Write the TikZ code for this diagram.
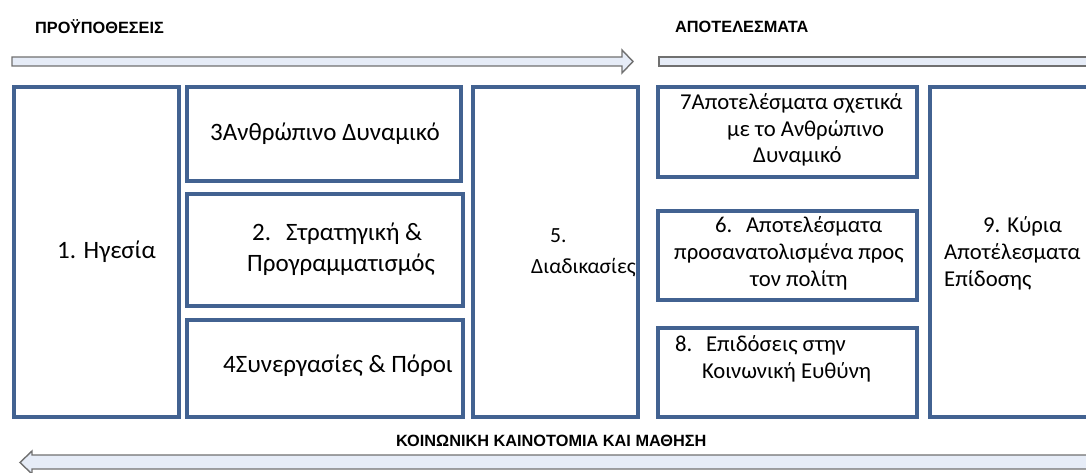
\documentclass[tikz,border=0pt]{standalone}
\usepackage{fontspec}
\setmainfont{Carlito}
\newfontfamily\headfont{Liberation Sans}[BoldFont={Liberation Sans Bold}]
\definecolor{boxblue}{RGB}{66,98,145}
\definecolor{arrfill}{RGB}{230,236,247}
\definecolor{arrline}{RGB}{112,112,112}
\begin{document}
\begin{tikzpicture}[x=1pt,y=-1pt,
  panel/.style={draw=boxblue,line width=3.6pt},
  bigarrow/.style={fill=arrfill,draw=arrline,line width=1.4pt,line join=miter},
  head/.style={font=\headfont\bfseries\fontsize{16.3}{18}\selectfont,anchor=west,inner sep=0pt},
  lbl/.style={anchor=west,inner sep=0pt,text height=0.62em,text depth=0.14em},
  lblL/.style={lbl,font=\fontsize{25}{30}\selectfont},
  lblM/.style={lbl,font=\fontsize{21.6}{25}\selectfont},
  lblR/.style={lbl,font=\fontsize{22.7}{27}\selectfont}]
\useasboundingbox (0,0) rectangle (1086,473);
\begin{scope}
\clip (0,0) rectangle (1086,473);
% arrows
\draw[bigarrow] (12,57) -- (622,57) -- (622,50) -- (633,61.5) -- (622,73) -- (622,66) -- (12,66) -- cycle;
\draw[bigarrow] (1100,57) -- (659,57) -- (659,66) -- (1100,66);
\draw[bigarrow] (1100,455) -- (32,455) -- (32,451) -- (20,462.5) -- (32,474) -- (32,469) -- (1100,469);
% panels
\draw[panel] (14,87) rectangle (179,417);
\draw[panel] (187,87) rectangle (461,181);
\draw[panel] (187,194) rectangle (463,306);
\draw[panel] (187,320) rectangle (463,417);
\draw[panel] (473,87) rectangle (638,417);
\draw[panel] (658,87) rectangle (917,177);
\draw[panel] (658,211) rectangle (917,300);
\draw[panel] (658,328) rectangle (917,417);
\draw[panel] (930,87) rectangle (1100,417);
\end{scope}
% headings
\node[head] (h1) at (35,27) {ΠΡΟΫΠΟΘΕΣΕΙΣ};
\node[head] (h2) at (675,27) {ΑΠΟΤΕΛΕΣΜΑΤΑ};
\node[head] (h3) at (396,441) {ΚΟΙΝΩΝΙΚΗ ΚΑΙΝΟΤΟΜΙΑ ΚΑΙ ΜΑΘΗΣΗ};
% labels
\node[lblL] (t1) at (57,256) {1. Ηγεσία};
\node[lblL] (t3) at (210,138) {3Ανθρώπινο Δυναμικό};
\node[lblL] (t2a) at (252,238) {2.\hspace{0.6em}Στρατηγική \&};
\node[lblL] (t2b) at (247,269) {Προγραμματισμός};
\node[lblL] (t4) at (223,370) {4Συνεργασίες \& Πόροι};
\node[lblM] (t5a) at (550,240) {5.};
\node[lblM] (t5b) at (531,271) {Διαδικασίες};
\node[lblR] (t7a) at (680,107) {7Αποτελέσματα σχετικά};
\node[lblR] (t7b) at (727,134) {με το Ανθρώπινο};
\node[lblR] (t7c) at (753,160) {Δυναμικό};
\node[lblR] (t6a) at (715,230) {6.\hspace{0.6em}Αποτελέσματα};
\node[lblR] (t6b) at (674,257) {προσανατολισμένα προς};
\node[lblR] (t6c) at (750,284) {τον πολίτη};
\node[lblR] (t8a) at (675,349) {8.\hspace{0.6em}Επιδόσεις στην};
\node[lblR] (t8b) at (702,376) {Κοινωνική Ευθύνη};
\node[lblR] (t9a) at (983,230) {9. Κύρια};
\node[lblR] (t9b) at (944,257) {Αποτέλεσματα};
\node[lblR] (t9c) at (944,284) {Επίδοσης};
\end{tikzpicture}
\end{document}
